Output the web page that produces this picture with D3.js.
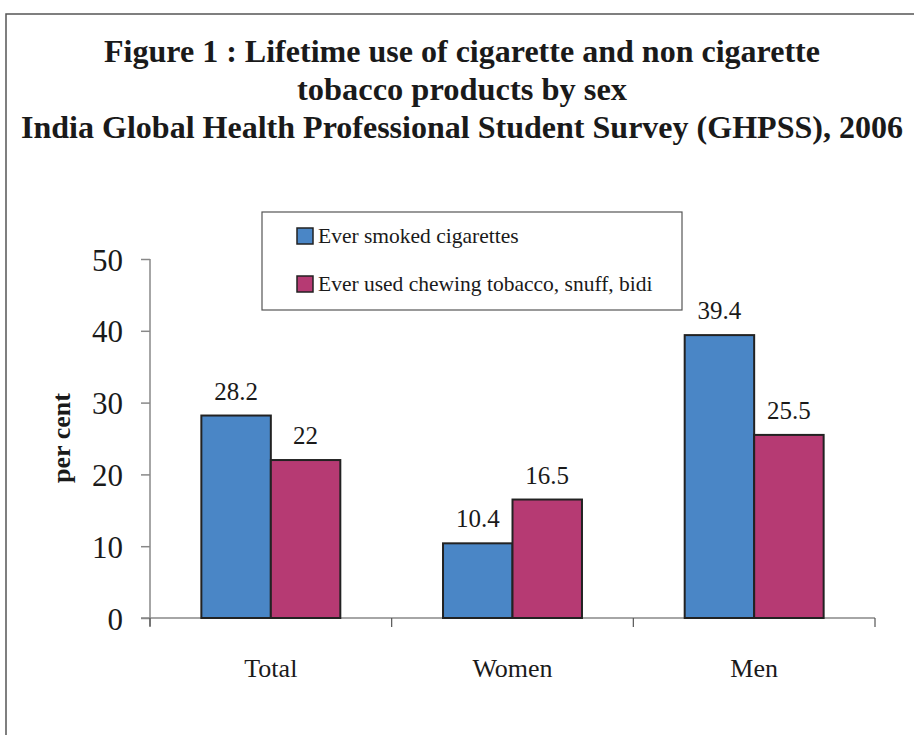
<!DOCTYPE html>
<html>
<head>
<meta charset="utf-8">
<script src="https://cdn.jsdelivr.net/npm/d3@7"></script>
<style>
  html, body { margin: 0; padding: 0; background: #fff; }
  svg { display: block; }
  text { font-family: "Liberation Serif", "Times New Roman", serif; fill: #1a1a1a; }
</style>
</head>
<body>
<svg id="chart" width="914" height="735"></svg>
<script>
// Lifetime tobacco use by sex (per cent)
const categories = ["Total", "Women", "Men"];
const seriesNames = ["Ever smoked cigarettes", "Ever used chewing tobacco, snuff, bidi"];
const cigarettes = [28.2, 10.4, 39.4];
const chewing = [22, 16.5, 25.5];
const yTicks = [0, 10, 20, 30, 40, 50];
const titleLines = [
  "Figure 1 : Lifetime use of cigarette and non cigarette",
  "tobacco products by sex",
  "India Global Health Professional Student Survey (GHPSS), 2006"
];
const colors = ["#4a86c6", "#b63a73"];

const svg = d3.select("#chart");

// outer frame
svg.append("rect")
  .attr("x", 6).attr("y", 14)
  .attr("width", 940).attr("height", 760)
  .attr("fill", "none").attr("stroke", "#555").attr("stroke-width", 1.5);

// title
const titleY = [62, 100, 138];
const titleW = [716, 330, 882];
svg.selectAll("text.title").data(titleLines).join("text")
  .attr("class", "title")
  .attr("x", 462).attr("y", (d, i) => titleY[i])
  .attr("text-anchor", "middle")
  .attr("font-size", 32).attr("font-weight", "bold")
  .attr("textLength", (d, i) => titleW[i])
  .attr("lengthAdjust", "spacingAndGlyphs")
  .text(d => d);

// scales
const y = d3.scaleLinear().domain([0, 50]).range([618, 259]);
const x0 = d3.scaleBand().domain(categories).range([150, 875])
  .paddingInner(0.425).paddingOuter(0.2125);
const x1 = d3.scaleBand().domain([0, 1]).range([0, x0.bandwidth()]);

// y axis
const yAxis = svg.append("g").attr("transform", "translate(150,0)")
  .call(d3.axisLeft(y).tickValues(yTicks).tickSize(9).tickPadding(18));
yAxis.select(".domain").attr("stroke", "#888").attr("stroke-width", 1.5)
  .attr("d", `M0,${y(50)}V${y(0) + 8}`);
yAxis.selectAll(".tick line").attr("stroke", "#888").attr("stroke-width", 1.5);
yAxis.selectAll(".tick text")
  .attr("font-family", "'Liberation Serif', serif")
  .attr("font-size", 31).attr("fill", "#1a1a1a")
  .attr("dy", "0.36em");

// x axis
const xAxisG = svg.append("g").attr("transform", `translate(0,${y(0)})`);
xAxisG.append("line")
  .attr("x1", 141).attr("x2", 875).attr("y1", 0).attr("y2", 0)
  .attr("stroke", "#888").attr("stroke-width", 1.5);
const bounds = [150].concat(categories.map(c => x0(c) + x0.bandwidth() + x0.step() * x0.paddingInner() / 2));
bounds[bounds.length - 1] = 875;
xAxisG.selectAll("line.sep").data(bounds).join("line")
  .attr("class", "sep")
  .attr("x1", d => d).attr("x2", d => d)
  .attr("y1", 0).attr("y2", 9)
  .attr("stroke", "#555").attr("stroke-width", 1.2);
xAxisG.selectAll("text.cat").data(categories).join("text")
  .attr("class", "cat")
  .attr("x", d => x0(d) + x0.bandwidth() / 2)
  .attr("y", 59)
  .attr("text-anchor", "middle")
  .attr("font-size", 26)
  .text(d => d);

// bars
const rows = categories.map((c, i) => ({ cat: c, vals: [cigarettes[i], chewing[i]] }));
const groups = svg.selectAll("g.grp").data(rows).join("g")
  .attr("class", "grp")
  .attr("transform", d => `translate(${x0(d.cat)},0)`);
groups.selectAll("rect").data(d => d.vals).join("rect")
  .attr("x", (d, i) => x1(i))
  .attr("y", d => y(d))
  .attr("width", x1.bandwidth())
  .attr("height", d => y(0) - y(d))
  .attr("fill", (d, i) => colors[i])
  .attr("stroke", "#222").attr("stroke-width", 2);
groups.selectAll("text").data(d => d.vals).join("text")
  .attr("x", (d, i) => x1(i) + x1.bandwidth() / 2)
  .attr("y", d => y(d) - 16)
  .attr("text-anchor", "middle")
  .attr("font-size", 25)
  .text(d => d);

// y axis title
svg.append("text")
  .attr("transform", "translate(70,438) rotate(-90)")
  .attr("text-anchor", "middle")
  .attr("font-size", 26).attr("font-weight", "bold")
  .text("per cent");

// legend
const lg = svg.append("g");
lg.append("rect")
  .attr("x", 262).attr("y", 212).attr("width", 420).attr("height", 98)
  .attr("fill", "#fff").attr("stroke", "#555").attr("stroke-width", 1.2);
const items = lg.selectAll("g.item").data(seriesNames).join("g")
  .attr("class", "item")
  .attr("transform", (d, i) => `translate(297,${228 + i * 48})`);
items.append("rect")
  .attr("width", 16).attr("height", 16)
  .attr("fill", (d, i) => colors[i])
  .attr("stroke", "#222").attr("stroke-width", 1.5);
items.append("text")
  .attr("x", 21).attr("y", 15)
  .attr("font-size", 21.5)
  .text(d => d);
</script>
</body>
</html>
